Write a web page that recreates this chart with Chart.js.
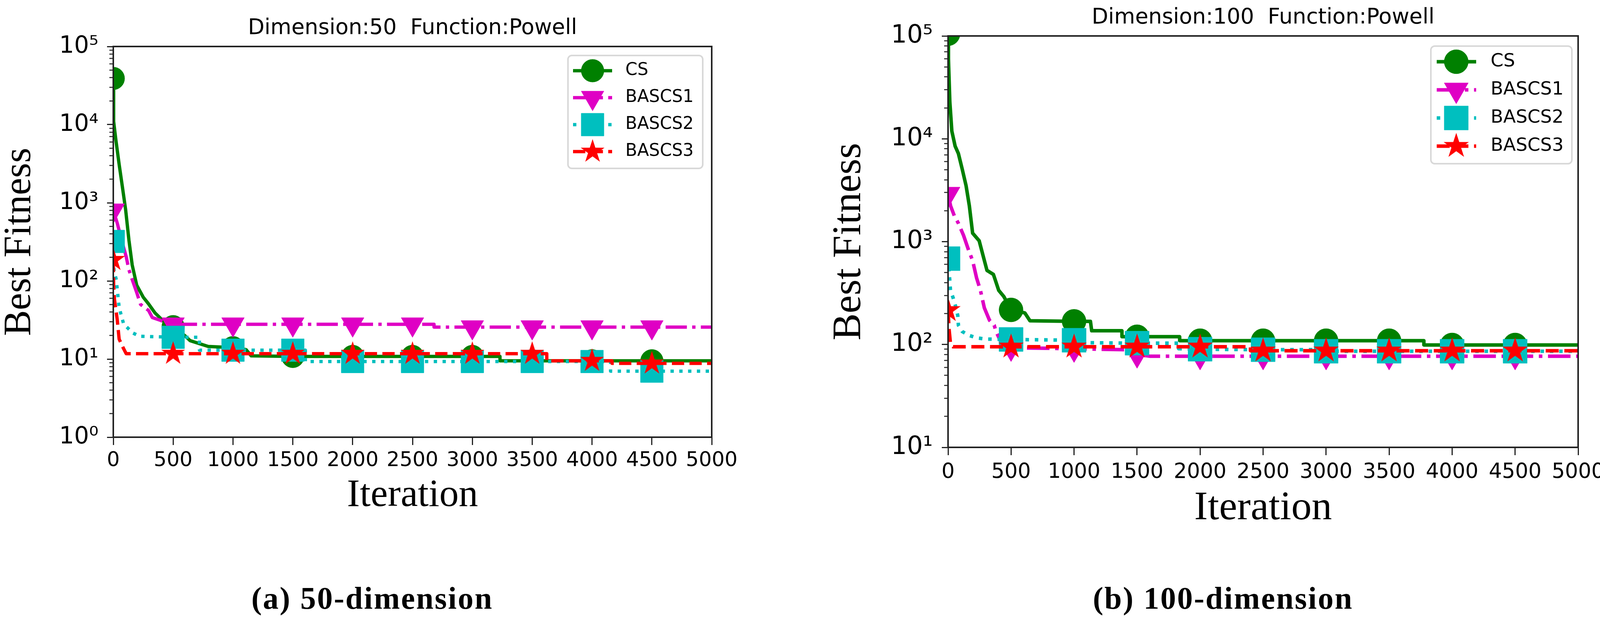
<!DOCTYPE html>
<html>
<head>
<meta charset="utf-8">
<script src="https://cdn.jsdelivr.net/npm/chart.js@4.4.1/dist/chart.umd.min.js"></script>
<style>
html, body { margin: 0; padding: 0; background: #fff; }
body { width: 4121px; height: 1592px; position: relative; overflow: hidden; }
canvas { position: absolute; top: 0; }
#c50 { left: 0; }
#c100 { left: 2060px; }
.cap { position: absolute; font-family: 'Liberation Serif', 'Times New Roman', serif; font-weight: bold;
       font-size: 80px; line-height: 80px; text-align: center; white-space: nowrap; letter-spacing: 3px; color: #000; }
</style>
</head>
<body>
<canvas id="c50" width="2060" height="1592"></canvas>
<canvas id="c100" width="2061" height="1592"></canvas>
<div class="cap" style="left:453px; width:1000px; top:1491px;">(a) 50-dimension</div>
<div class="cap" style="left:2631px; width:1000px; top:1491px;">(b) 100-dimension</div>
<script>
// ---------------- data ----------------
const seriesNames = ['CS', 'BASCS1', 'BASCS2', 'BASCS3'];
const xTickValues = [0, 500, 1000, 1500, 2000, 2500, 3000, 3500, 4000, 4500, 5000];
const yExp50 = [0, 1, 2, 3, 4, 5];
const yExp100 = [1, 2, 3, 4, 5];

// Dimension 50
const it50CS  = [0,3,22,49,76,103,131,158,196,250,294,348,424,500,597,642,793,1000,1110,1152,1500,2000,2500,3000,3231,3231,3500,4000,4500,5000];
const fit50CS = [39000,11000,6300,3100,1600,820,330,160,88,62,51,39,30,26,20,17.2,14.5,14,13.2,11,10.8,10.8,10.8,10.8,10.8,9.5,9.5,9.5,9.5,9.5];
const it50B1  = [0,33,70,108,131,163,196,228,294,326,402,450,500,1000,1500,2000,2500,2680,2680,3000,3500,4000,4500,5000];
const fit50B1 = [800,550,330,204,138,99,71,50,42,34,31,28.5,27.9,27.9,27.9,27.9,27.9,27.9,25.6,25.6,25.6,25.6,25.6,25.6];
const it50B2  = [0,5,26,33,49,65,87,124,163,218,500,720,720,1000,1500,1605,1605,2000,2500,3000,3500,4000,4155,4155,4500,5000];
const fit50B2 = [320,140,102,78,46,37,28,24.7,21.6,19.6,19,19,13,13,13,13,9.3,9.3,9.3,9.3,9.3,9.3,9.3,7.0,7.0,7.0];
const it50B3  = [0,3,10,33,49,82,108,500,1000,1500,2000,2500,3000,3500,3622,3622,4000,4167,4167,4500,5000];
const fit50B3 = [186,87,58,32,18,14,11.7,11.7,11.7,11.7,11.7,11.7,11.7,11.7,11.7,9.5,9.5,9.5,8.8,8.8,8.8];

// Dimension 100
const it100CS  = [0,3,14,30,56,82,112,143,169,195,247,278,309,360,402,443,500,609,650,1000,1130,1140,1380,1380,1500,1838,1838,2000,2500,3000,3500,3776,3776,4000,4500,5000];
const fit100CS = [105000,60000,23000,11900,8500,7200,5100,3500,2230,1210,1020,730,525,480,336,292,217,203,170,168,168,136,136,119,119,119,109,109,109,109,109,109,99,99,99,99];
const it100B1  = [0,20,50,82,123,164,195,226,257,288,329,366,381,420,470,500,1000,1404,1450,1500,1600,2000,2500,3000,3500,4000,4500,5000];
const fit100B1 = [2900,2230,1780,1510,1150,820,655,446,336,227,172,154,134,105,93,93,91,89,82,80,77,77,77,77,77,77,77,77];
const it100B2  = [0,14,19,40,61,77,82,112,164,226,298,500,1000,1125,1500,1830,1830,2000,2500,2900,2900,3000,3500,4000,4500,5000];
const fit100B2 = [684,415,336,285,233,192,154,134,123,116,113,112,110,104,103,103,91,90,89,89,86,86,86,86,86,86];
const it100B3  = [0,8,20,40,500,1000,1500,2000,2400,2400,2500,3000,3500,4000,4500,5000];
const fit100B3 = [215,140,100,95,95,95,95,95,95,87,87,87,87,87,87,87];

// ---------------- styling ----------------
const SANS = "'DejaVu Sans', sans-serif";
const SERIF = "'Liberation Serif', 'Times New Roman', serif";
const SUP = {'0':'\u2070','1':'\u00B9','2':'\u00B2','3':'\u00B3','4':'\u2074','5':'\u2075','6':'\u2076','7':'\u2077','8':'\u2078','9':'\u2079'};
const supStr = n => String(n).split('').map(c => SUP[c]).join('');

function makeStar(d, color) {
  const c = document.createElement('canvas');
  c.width = d; c.height = d;
  const g = c.getContext('2d');
  const R = d / 2 - 1, r = R * 0.381966, cx = d / 2, cy = d / 2;
  g.beginPath();
  for (let k = 0; k < 10; k++) {
    const rad = k % 2 === 0 ? R : r;
    const a = -Math.PI / 2 + k * Math.PI / 5;
    const px = cx + rad * Math.cos(a), py = cy + rad * Math.sin(a);
    if (k === 0) g.moveTo(px, py); else g.lineTo(px, py);
  }
  g.closePath();
  g.fillStyle = color; g.fill();
  return c;
}

function styles(k) { // k = size factor
  const lw = 8.5 * k;
  return [
    {color: '#008000', dash: [], style: 'circle', rot: 0, r: 29 * k},
    {color: '#df00c4', dash: [6.4 * lw, 1.6 * lw, 1 * lw, 1.6 * lw], style: 'triangle', rot: 180, r: 33.5 * k},
    {color: '#00bfbf', dash: [1 * lw, 1.65 * lw], style: 'rect', rot: 0, r: 41 * k},
    {color: '#ff0000', dash: [3.7 * lw, 1.6 * lw], style: makeStar(Math.round(66 * k), '#ff0000'), rot: 0, r: 30 * k}
  ].map(s => Object.assign(s, {lw}));
}

const framePlugin = {
  id: 'frame',
  afterDatasetsDraw(chart) {
    const {ctx, chartArea: a} = chart;
    ctx.save();
    ctx.strokeStyle = '#222';
    ctx.lineWidth = 4;
    ctx.strokeRect(a.left, a.top, a.right - a.left, a.bottom - a.top);
    ctx.restore();
  }
};

const legendPlugin = {
  id: 'mplLegend',
  afterDatasetsDraw(chart, args, o) {
    const {ctx, chartArea: a} = chart;
    const x2 = a.right - o.right, y1 = a.top + o.top;
    const x1 = x2 - o.width, y2 = y1 + o.height;
    ctx.save();
    const rr = 10;
    ctx.beginPath();
    ctx.moveTo(x1 + rr, y1);
    ctx.arcTo(x2, y1, x2, y2, rr);
    ctx.arcTo(x2, y2, x1, y2, rr);
    ctx.arcTo(x1, y2, x1, y1, rr);
    ctx.arcTo(x1, y1, x2, y1, rr);
    ctx.closePath();
    ctx.fillStyle = 'rgba(255,255,255,0.8)';
    ctx.fill();
    ctx.strokeStyle = '#d8d8d8';
    ctx.lineWidth = 4;
    ctx.stroke();
    chart.data.datasets.forEach((ds, i) => {
      const y = y1 + o.firstRow + i * o.rowH;
      ctx.strokeStyle = ds.borderColor;
      ctx.lineWidth = ds.borderWidth;
      ctx.lineCap = 'butt';
      ctx.setLineDash(ds.borderDash || []);
      ctx.beginPath();
      ctx.moveTo(x1 + o.hx1, y);
      ctx.lineTo(x1 + o.hx2, y);
      ctx.stroke();
      ctx.setLineDash([]);
      ctx.fillStyle = ds.pointBackgroundColor;
      ctx.strokeStyle = ds.pointBorderColor;
      ctx.lineWidth = 1;
      Chart.helpers.drawPoint(ctx, {pointStyle: ds.pointStyle, rotation: ds.pointRotation || 0,
                                     radius: ds.markerR, borderWidth: 1}, x1 + o.mx, y);
      ctx.fillStyle = '#000';
      ctx.font = o.fontSize + 'px ' + SANS;
      ctx.textAlign = 'left';
      ctx.textBaseline = 'middle';
      ctx.fillText(ds.label, x1 + o.tx, y);
    });
    ctx.restore();
  }
};

function buildChart(id, o) {
  const st = styles(o.k);
  const isMajor = v => Math.abs(Math.log10(v) - Math.round(Math.log10(v))) < 1e-9;
  const yTicks = [];
  o.yExp.forEach((e, idx) => {
    if (idx === o.yExp.length - 1) { yTicks.push(Math.pow(10, e)); return; }
    for (let m = 1; m <= 9; m++) yTicks.push(m * Math.pow(10, e));
  });
  const datasets = o.series.map((s, i) => ({
    label: seriesNames[i],
    data: s.it.map((x, j) => ({x: x, y: s.fit[j]})),
    borderColor: st[i].color,
    backgroundColor: st[i].color,
    borderWidth: st[i].lw,
    borderDash: st[i].dash,
    borderJoinStyle: 'round',
    pointStyle: st[i].style,
    pointRotation: st[i].rot,
    pointBackgroundColor: st[i].color,
    pointBorderColor: st[i].color,
    pointBorderWidth: 1,
    markerR: st[i].r,
    pointRadius: c => (c.raw && c.raw.x % 500 === 0 && c.raw.x < 5000) ? st[i].r : 0,
    pointHoverRadius: c => (c.raw && c.raw.x % 500 === 0 && c.raw.x < 5000) ? st[i].r : 0,
    tension: 0,
    fill: false,
    clip: 0,
    order: 4 - i
  }));
  return new Chart(document.getElementById(id), {
    type: 'line',
    data: {datasets},
    plugins: [framePlugin, legendPlugin],
    options: {
      responsive: false,
      animation: false,
      devicePixelRatio: 1,
      events: [],
      layout: {padding: {left: 0, top: 0, right: o.padRight, bottom: o.padBottom}},
      plugins: {
        legend: {display: false},
        tooltip: {enabled: false},
        title: {
          display: true, text: o.title, color: '#000', fullSize: false,
          font: {family: SANS, size: o.titleSize, weight: 'normal', lineHeight: 1.2},
          padding: {top: o.titleTop, bottom: o.titleBottom}
        },
        mplLegend: o.legend
      },
      scales: {
        x: {
          type: 'linear', min: 0, max: 5000,
          afterBuildTicks: s => { s.ticks = xTickValues.map(v => ({value: v})); },
          ticks: {color: '#000', font: {family: SANS, size: o.xTickSize}, padding: o.xTickPad,
                  maxRotation: 0, autoSkip: false, callback: v => String(v)},
          grid: {drawOnChartArea: false, drawTicks: true, tickLength: 20, tickWidth: 3, tickColor: '#222', color: '#222'},
          border: {display: true, color: '#222', width: 4},
          title: {display: true, text: 'Iteration', color: '#000',
                  font: {family: SERIF, size: o.axTitleSize, lineHeight: 1},
                  padding: {top: 0, bottom: o.xTitlePad}},
          afterFit: s => { s.height = o.xAxisH; }
        },
        y: {
          type: 'logarithmic', min: o.ymin, max: o.ymax,
          afterBuildTicks: s => { s.ticks = yTicks.map(v => ({value: v})); },
          ticks: {color: '#000', autoSkip: false, font: {family: SANS, size: o.yTickSize}, padding: o.yTickPad,
                  callback: v => isMajor(v) ? '10' + supStr(Math.round(Math.log10(v))) : ''},
          grid: {drawOnChartArea: false, drawTicks: true, tickLength: 16, color: '#222', tickColor: '#222',
                 tickWidth: c => (c.tick && isMajor(c.tick.value)) ? 3 : 2.5,
                 tickBorderDash: c => (c.tick && isMajor(c.tick.value)) ? [] : [11, 100],
                 tickBorderDashOffset: c => (c.tick && isMajor(c.tick.value)) ? 0 : 105},
          border: {display: true, color: '#222', width: 4},
          title: {display: true, text: 'Best Fitness', color: '#000',
                  font: {family: SERIF, size: o.axTitleSize, lineHeight: 1},
                  padding: {top: o.yTitlePad, bottom: 0}},
          afterFit: s => { s.width = o.yAxisW; }
        }
      }
    }
  });
}

buildChart('c50', {
  k: 1,
  title: 'Dimension:50  Function:Powell',
  series: [{it: it50CS, fit: fit50CS}, {it: it50B1, fit: fit50B1}, {it: it50B2, fit: fit50B2}, {it: it50B3, fit: fit50B3}],
  yExp: yExp50, ymin: 1, ymax: 1e5,
  padRight: 238, padBottom: 273, xAxisH: 200, yAxisW: 290,
  titleSize: 55, titleTop: 40, titleBottom: 13,
  xTickSize: 52, xTickPad: 9, yTickSize: 60, yTickPad: 22,
  axTitleSize: 99, xTitlePad: 0.5, yTitlePad: 1.5,
  legend: {right: 23, top: 23, width: 345, height: 289, firstRow: 39, rowH: 69, hx1: 13, hx2: 113, mx: 63, tx: 147, fontSize: 44}
});

buildChart('c100', {
  k: 1.06,
  title: 'Dimension:100  Function:Powell',
  series: [{it: it100CS, fit: fit100CS}, {it: it100B1, fit: fit100B1}, {it: it100B2, fit: fit100B2}, {it: it100B3, fit: fit100B3}],
  yExp: yExp100, ymin: 10, ymax: 1e5,
  padRight: 81, padBottom: 237, xAxisH: 210, yAxisW: 367,
  titleSize: 55, titleTop: 13, titleBottom: 13,
  xTickSize: 53, xTickPad: 12, yTickSize: 64, yTickPad: 23,
  axTitleSize: 104, xTitlePad: 1, yTitlePad: 63,
  legend: {right: 16, top: 26, width: 361, height: 301, firstRow: 40, rowH: 72, hx1: 15, hx2: 116, mx: 65, tx: 153, fontSize: 47}
});
</script>
</body>
</html>
